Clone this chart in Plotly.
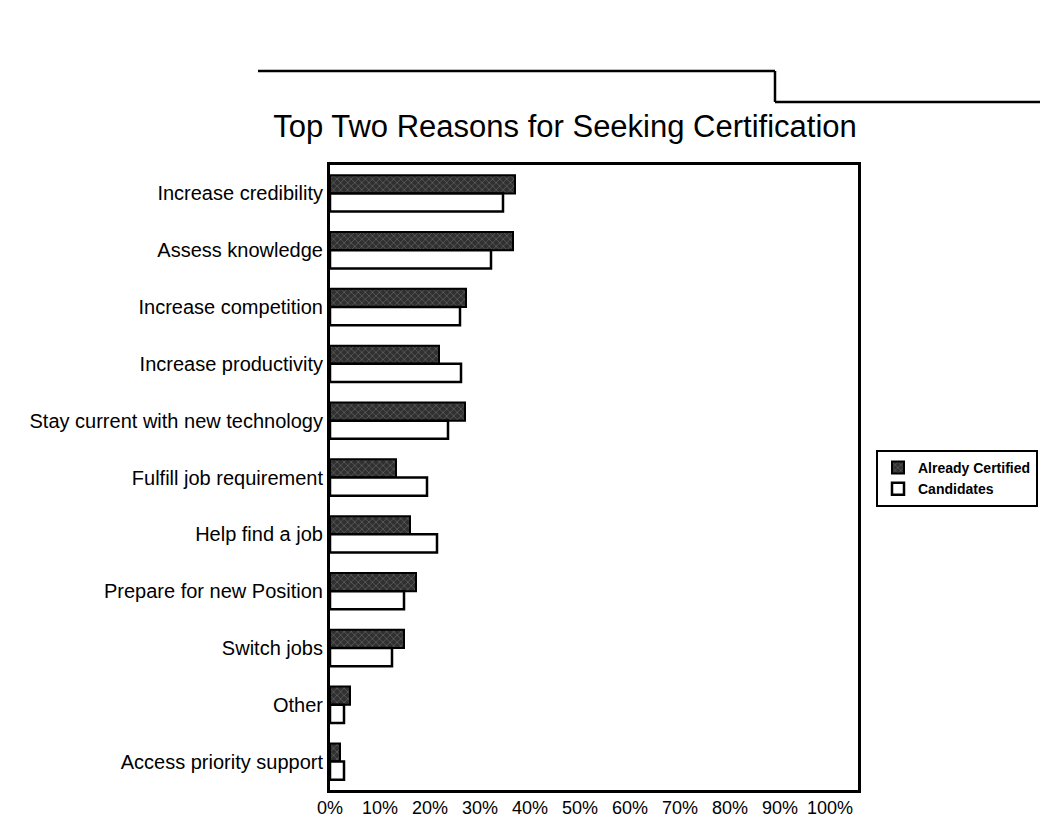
import plotly.graph_objects as go

categories = [
    "Increase credibility",
    "Assess knowledge",
    "Increase competition",
    "Increase productivity",
    "Stay current with new technology",
    "Fulfill job requirement",
    "Help find a job",
    "Prepare for new Position",
    "Switch jobs",
    "Other",
    "Access priority support",
]
already_certified = [37, 36.6, 27.2, 21.8, 27, 13.2, 16, 17.2, 14.8, 4, 2]
candidates = [34.6, 32.2, 26, 26.2, 23.6, 19.4, 21.4, 14.8, 12.4, 2.8, 2.8]
tick_values = [0, 10, 20, 30, 40, 50, 60, 70, 80, 90, 100]
tick_labels = ["0%", "10%", "20%", "30%", "40%", "50%", "60%", "70%", "80%", "90%", "100%"]

W, H = 1047, 826
L, R, T, B = 330, 189, 165, 36
pw, ph = W - L - R, H - T - B

def px(x):
    return (x - L) / pw

def py(y):
    return (H - B - y) / ph

FONT = "Liberation Sans, Arial, sans-serif"

fig = go.Figure()
fig.add_trace(go.Bar(
    y=categories, x=already_certified, orientation="h", name="Already Certified",
    marker=dict(color="#303030", line=dict(color="black", width=2),
                pattern=dict(shape="x", fgcolor="#9a9a9a", size=5, solidity=0.25)),
))
fig.add_trace(go.Bar(
    y=categories, x=candidates, orientation="h", name="Candidates",
    marker=dict(color="white", line=dict(color="black", width=2.5)),
))

shape_line = dict(color="black", width=2.5)
fig.add_shape(type="line", xref="paper", yref="paper", x0=px(258), x1=px(775), y0=py(71), y1=py(71), line=shape_line)
fig.add_shape(type="line", xref="paper", yref="paper", x0=px(775), x1=px(775), y0=py(71), y1=py(102), line=shape_line)
fig.add_shape(type="line", xref="paper", yref="paper", x0=px(775), x1=px(1040), y0=py(102), y1=py(102), line=shape_line)

fig.update_layout(
    width=W, height=H,
    margin=dict(l=L, r=R, t=T, b=B, autoexpand=False),
    paper_bgcolor="white", plot_bgcolor="white",
    barmode="group", bargap=0.36, bargroupgap=0.0,
    font=dict(family=FONT, color="black", size=20),
    title=dict(text="Top Two Reasons for Seeking Certification", x=565 / W, xanchor="center",
               y=1 - 126 / H, yanchor="middle", font=dict(size=31, family=FONT)),
    xaxis=dict(range=[0, pw / 5.0], tickvals=tick_values, ticktext=tick_labels,
               showgrid=False, zeroline=False, showline=True, linecolor="black", linewidth=2.5,
               mirror=True, ticks="", tickfont=dict(size=18)),
    yaxis=dict(autorange="reversed", showgrid=False, showline=True, linecolor="black",
               linewidth=3, mirror=True, ticks="", tickfont=dict(size=20)),
    legend=dict(x=px(876), y=py(450), xanchor="left", yanchor="top", bgcolor="white",
                bordercolor="black", borderwidth=2, font=dict(size=14, weight="bold"),
                traceorder="normal", itemwidth=30, tracegroupgap=0),
    showlegend=True,
)

fig.write_html("out.html")
